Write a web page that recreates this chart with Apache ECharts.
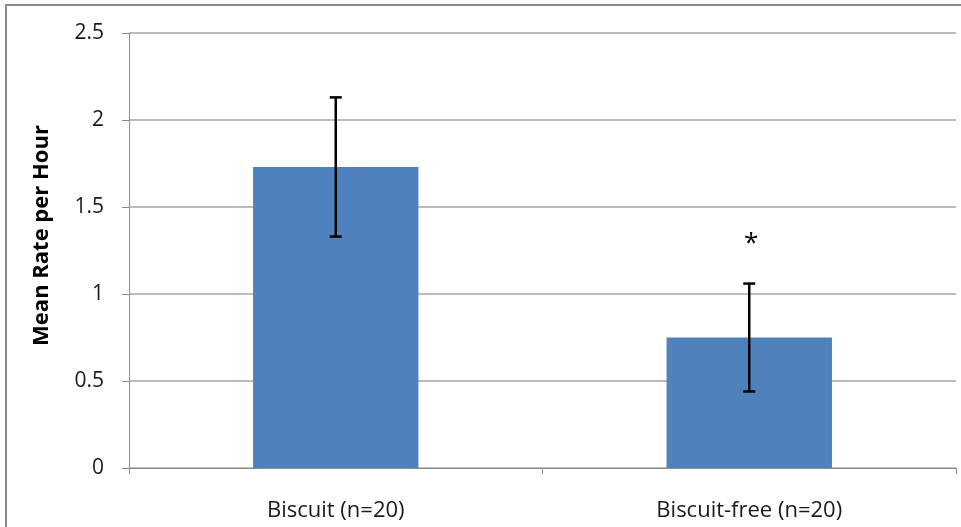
<!DOCTYPE html>
<html><head><meta charset="utf-8">
<script src="https://cdn.jsdelivr.net/npm/echarts@6/dist/echarts.min.js"></script>
<style>html,body{margin:0;padding:0;background:#fff}#c{width:961px;height:527px}</style>
</head><body><div id="c"></div>
<script>
var categories = ['Biscuit (n=20)', 'Biscuit-free (n=20)'];
var means = [1.73, 0.75];
var errors = [0.40, 0.31];
var sigMarks = ['', '*'];
var sigValues = [null, 1.29];
var yTicks = [0, 0.5, 1, 1.5, 2, 2.5];

var errData = categories.map(function (c, i) { return [i, means[i] - errors[i], means[i] + errors[i]]; });
var sigData = [];
categories.forEach(function (c, i) { if (sigValues[i] != null) sigData.push([i, sigValues[i]]); });

var font = '"Open Sans", sans-serif';
var chart = echarts.init(document.getElementById('c'), null, { renderer: 'canvas' });
chart.setOption({
  animation: false,
  backgroundColor: '#fff',
  graphic: [{
    type: 'rect', shape: { x: 6, y: 5, width: 1000, height: 600 },
    style: { fill: 'none', stroke: '#8a8a8a', lineWidth: 2 }, z: 100
  }],
  grid: { left: 129, right: 5, top: 33, bottom: 59 },
  xAxis: {
    type: 'category', data: categories, boundaryGap: true,
    axisLine: { lineStyle: { color: '#8c8c8c', width: 1 } },
    axisTick: { show: true, length: 6, lineStyle: { color: '#8c8c8c' } },
    axisLabel: { color: '#1a1a1a', fontSize: 22, fontFamily: font, margin: 32 }
  },
  yAxis: {
    type: 'value', min: yTicks[0], max: yTicks[yTicks.length - 1], interval: 0.5,
    name: 'Mean Rate per Hour', nameLocation: 'middle', nameGap: 76,
    nameTextStyle: { fontSize: 22, fontWeight: 'bold', fontFamily: font, color: '#000', padding: [0, 0, 0, 30] },
    axisLine: { show: true, lineStyle: { color: '#8c8c8c' } },
    axisTick: { show: true, length: 7, lineStyle: { color: '#8c8c8c' } },
    axisLabel: { color: '#1a1a1a', fontSize: 21, fontFamily: font, margin: 25 },
    splitLine: { lineStyle: { color: '#a6a6a6', width: 1.5 } }
  },
  series: [{
    type: 'bar', data: means, barWidth: '40%',
    itemStyle: { color: '#4F81BD' }
  }, {
    type: 'custom', data: errData, z: 10,
    renderItem: function (params, api) {
      var x = api.value(0);
      var lo = api.coord([x, api.value(1)]);
      var hi = api.coord([x, api.value(2)]);
      var hw = 6;
      var st = { stroke: '#000', lineWidth: 2.5 };
      return { type: 'group', children: [
        { type: 'line', shape: { x1: hi[0], y1: hi[1], x2: lo[0], y2: lo[1] }, style: st },
        { type: 'line', shape: { x1: hi[0] - hw, y1: hi[1], x2: hi[0] + hw, y2: hi[1] }, style: st },
        { type: 'line', shape: { x1: lo[0] - hw, y1: lo[1], x2: lo[0] + hw, y2: lo[1] }, style: st }
      ]};
    }
  }, {
    type: 'custom', data: sigData, z: 11,
    renderItem: function (params, api) {
      var p = api.coord([api.value(0), api.value(1)]);
      return { type: 'text', x: p[0] + 2, y: p[1],
        style: { text: sigMarks[api.value(0)], fill: '#000', font: '26px ' + font, align: 'center', verticalAlign: 'middle' } };
    }
  }]
});
</script></body></html>
